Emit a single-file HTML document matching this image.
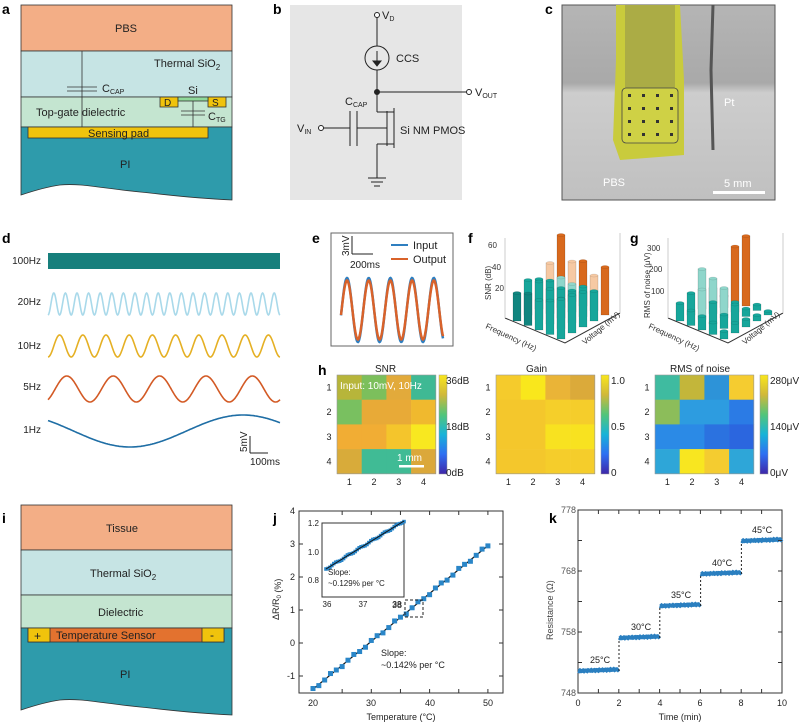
<!DOCTYPE html>
<html><head><meta charset="utf-8"><style>
html,body{margin:0;padding:0;background:#fff;}
svg{display:block;font-family:"Liberation Sans",sans-serif;}
</style></head><body>
<svg id="s" width="799" height="722" viewBox="0 0 799 722" xmlns="http://www.w3.org/2000/svg">
<g font-weight="bold" font-size="14" fill="#000">
<text x="2" y="14">a</text><text x="273" y="14">b</text><text x="545" y="14">c</text>
<text x="2" y="243">d</text><text x="312" y="243">e</text><text x="468" y="243">f</text><text x="630" y="243">g</text>
<text x="318" y="375">h</text><text x="2" y="523">i</text><text x="273" y="523">j</text><text x="549" y="523">k</text>
</g>
<!-- panel a -->
<g stroke="#333" stroke-width="0.8">
<rect x="21" y="5" width="211" height="46" fill="#f3ae86"/>
<rect x="21" y="51" width="211" height="46" fill="#c6e4e4"/>
<rect x="21" y="97" width="211" height="30" fill="#c4e5d0"/>
<path d="M21 127 H232 V200 C190 198 170 195 140 192 C100 188 80 183 60 185 C45 187 30 192 21 195 Z" fill="#2e9bab"/>
<rect x="28" y="127" width="180" height="11" fill="#f0c30c"/>
<rect x="160" y="97" width="18" height="10" fill="#f0c30c"/>
<rect x="208" y="97" width="18" height="10" fill="#f0c30c"/>
<rect x="178" y="97" width="30" height="4" fill="#8fd89a"/>
<line x1="82" y1="51" x2="82" y2="127"/>
<line x1="67" y1="87" x2="97" y2="87"/><line x1="67" y1="91" x2="97" y2="91"/>
<line x1="193" y1="101" x2="193" y2="127"/>
<line x1="181" y1="111" x2="205" y2="111"/><line x1="181" y1="115" x2="205" y2="115"/>
</g>
<g font-size="11" fill="#222">
<text x="115" y="32">PBS</text><text x="154" y="67">Thermal SiO<tspan font-size="8" dy="3">2</tspan></text>
<text x="102" y="92">C<tspan font-size="7" dy="2">CAP</tspan></text>
<text x="188" y="94">Si</text><text x="164" y="106" font-size="10">D</text><text x="212" y="106" font-size="10">S</text>
<text x="36" y="116">Top-gate dielectric</text><text x="208" y="120">C<tspan font-size="7" dy="2">TG</tspan></text>
<text x="88" y="137">Sensing pad</text><text x="120" y="168">PI</text>
</g>
<!-- panel b -->
<rect x="290" y="5" width="172" height="195" fill="#e6e6e6"/>
<g stroke="#222" stroke-width="1" fill="none">
<circle cx="377" cy="15" r="2.5" fill="#fff"/>
<line x1="377" y1="17.5" x2="377" y2="46"/>
<circle cx="377" cy="58" r="12"/>
<line x1="377" y1="51" x2="377" y2="64"/>
<path d="M373 61 L377 66 L381 61 Z" fill="#222"/>
<line x1="377" y1="70" x2="377" y2="112"/>
<circle cx="377" cy="92" r="2.5" fill="#222"/>
<line x1="377" y1="92" x2="466" y2="92"/>
<circle cx="469" cy="92" r="2.5" fill="#fff"/>
<circle cx="321" cy="128" r="2.5" fill="#fff"/>
<line x1="323.5" y1="128" x2="350" y2="128"/>
<line x1="350" y1="111" x2="350" y2="146"/><line x1="357" y1="111" x2="357" y2="146"/>
<line x1="357" y1="128" x2="387" y2="128"/>
<line x1="387" y1="111" x2="387" y2="146"/>
<line x1="394" y1="108" x2="394" y2="148"/>
<line x1="394" y1="112" x2="377" y2="112"/><line x1="394" y1="144" x2="377" y2="144"/>
<line x1="377" y1="144" x2="377" y2="178"/>
<line x1="368" y1="178" x2="386" y2="178"/><line x1="371" y1="182" x2="383" y2="182"/><line x1="374" y1="186" x2="380" y2="186"/>
</g>
<g font-size="11" fill="#222">
<text x="382" y="19">V<tspan font-size="7" dy="2">D</tspan></text>
<text x="396" y="62">CCS</text>
<text x="475" y="96">V<tspan font-size="7" dy="2">OUT</tspan></text>
<text x="297" y="132">V<tspan font-size="7" dy="2">IN</tspan></text>
<text x="345" y="105">C<tspan font-size="7" dy="2">CAP</tspan></text>
<text x="400" y="134">Si NM PMOS</text>
</g>
<!-- panel c -->
<defs>
<linearGradient id="cg" x1="0" y1="0" x2="0" y2="1"><stop offset="0" stop-color="#b5b5b5"/><stop offset="0.4" stop-color="#a9a9a9"/><stop offset="0.45" stop-color="#cdcdcd"/><stop offset="1" stop-color="#c0c0c0"/></linearGradient>
</defs>
<rect x="562" y="5" width="213" height="195" fill="url(#cg)" stroke="#555"/>
<path d="M616 5 L680 5 L684 80 L684 155 L620 160 L613 140 L616 60 Z" fill="#c9cb3c"/>
<rect x="625" y="5" width="50" height="85" fill="#9e9e48" opacity="0.7"/>
<rect x="622" y="88" width="56" height="55" rx="4" fill="#cfd145" stroke="#444" stroke-width="0.8"/>
<g fill="#333">
<rect x="628" y="94" width="3" height="3"/><rect x="642" y="94" width="3" height="3"/><rect x="656" y="94" width="3" height="3"/><rect x="670" y="94" width="3" height="3"/>
<rect x="628" y="107" width="3" height="3"/><rect x="642" y="107" width="3" height="3"/><rect x="656" y="107" width="3" height="3"/><rect x="670" y="107" width="3" height="3"/>
<rect x="628" y="120" width="3" height="3"/><rect x="642" y="120" width="3" height="3"/><rect x="656" y="120" width="3" height="3"/><rect x="670" y="120" width="3" height="3"/>
<rect x="628" y="133" width="3" height="3"/><rect x="642" y="133" width="3" height="3"/><rect x="656" y="133" width="3" height="3"/><rect x="670" y="133" width="3" height="3"/>
</g>
<path d="M713 5 L711 70 L713 150" stroke="#555" stroke-width="3" fill="none"/>
<g font-size="11" fill="#fff"><text x="603" y="186">PBS</text><text x="724" y="106">Pt</text><text x="724" y="187">5 mm</text></g>
<rect x="713" y="191" width="52" height="3" fill="#fff"/>
<!-- panel d -->
<g font-size="10" fill="#222" text-anchor="end">
<text x="41" y="264">100Hz</text><text x="41" y="305">20Hz</text><text x="41" y="349">10Hz</text><text x="41" y="390">5Hz</text><text x="41" y="433">1Hz</text>
</g>
<rect x="48" y="253" width="232" height="16" fill="#177f7c"/>
<g id="waves" fill="none" stroke-width="1.6"></g>
<g stroke="#222" stroke-width="1"><line x1="250" y1="436" x2="250" y2="453"/><line x1="250" y1="453" x2="268" y2="453"/></g>
<text x="247" y="452" font-size="10" fill="#222" transform="rotate(-90 247 452)">5mV</text>
<text x="250" y="465" font-size="10" fill="#222">100ms</text>
<!-- panel e -->
<rect x="331" y="233" width="122" height="113" fill="#fff" stroke="#666"/>
<g stroke="#222" stroke-width="1"><line x1="352" y1="236" x2="352" y2="254"/><line x1="352" y1="254" x2="373" y2="254"/></g>
<text x="349" y="256" font-size="10" fill="#222" transform="rotate(-90 349 256)">3mV</text>
<text x="350" y="268" font-size="10" fill="#222">200ms</text>
<line x1="391" y1="245" x2="408" y2="245" stroke="#2f7fc0" stroke-width="2"/>
<line x1="391" y1="259" x2="408" y2="259" stroke="#d9622a" stroke-width="2"/>
<text x="413" y="249" font-size="11" fill="#222">Input</text><text x="413" y="263" font-size="11" fill="#222">Output</text>
<g id="ewave" fill="none"></g>
<g id="bars3d"></g>
<g font-size="8" fill="#333">
<text x="488" y="248">60</text><text x="492" y="270">40</text><text x="495" y="291">20</text>
<text x="491" y="300" font-size="8" transform="rotate(-90 491 300)">SNR (dB)</text>
<text x="485" y="328" transform="rotate(25 485 328)">Frequency (Hz)</text>
<text x="585" y="345" transform="rotate(-40 585 345)">Voltage (mV)</text>
<text x="647" y="251">300</text><text x="649" y="272">200</text><text x="651" y="294">100</text>
<text x="650" y="318" transform="rotate(-90 650 318)">RMS of noise (μV)</text>
<text x="648" y="328" transform="rotate(25 648 328)">Frequency (Hz)</text>
<text x="745" y="345" transform="rotate(-40 745 345)">Voltage (mV)</text>
</g>
<!-- panel h -->
<g id="heat"></g>
<g font-size="10" fill="#222">
<text x="375" y="372">SNR</text><text x="526" y="372">Gain</text><text x="670" y="372">RMS of noise</text>
<text x="446" y="384">36dB</text><text x="446" y="430">18dB</text><text x="446" y="476">0dB</text>
<text x="611" y="384">1.0</text><text x="611" y="430">0.5</text><text x="611" y="476">0</text>
<text x="770" y="384">280μV</text><text x="770" y="430">140μV</text><text x="770" y="476">0μV</text>
</g>
<text x="340" y="389" font-size="10" fill="#fff">Input: 10mV, 10Hz</text>
<text x="397" y="461" font-size="10" fill="#fff">1 mm</text>
<rect x="399" y="465" width="25" height="2.5" fill="#fff"/>
<!-- panel i -->
<g stroke="#333" stroke-width="0.8">
<rect x="21" y="505" width="211" height="45" fill="#f3ae86"/>
<rect x="21" y="550" width="211" height="45" fill="#c6e4e4"/>
<rect x="21" y="595" width="211" height="33" fill="#c4e5d0"/>
<path d="M21 628 H232 V715 C190 713 170 710 140 707 C100 703 80 698 60 700 C45 702 30 707 21 710 Z" fill="#2e9bab"/>
<rect x="28" y="628" width="196" height="14" fill="#e3722f"/>
<rect x="28" y="628" width="22" height="14" fill="#f0c30c"/>
<rect x="202" y="628" width="22" height="14" fill="#f0c30c"/>
</g>
<g font-size="11" fill="#222">
<text x="106" y="532">Tissue</text><text x="90" y="577">Thermal SiO<tspan font-size="8" dy="3">2</tspan></text>
<text x="98" y="616">Dielectric</text><text x="56" y="639">Temperature Sensor</text>
<text x="34" y="640" font-size="12">+</text><text x="210" y="639" font-size="12">-</text>
<text x="120" y="678">PI</text>
</g>
<!-- panel j -->
<rect x="299" y="511" width="204" height="182" fill="#fff" stroke="#333"/>
<g id="jplot"></g>
<g font-size="9" fill="#222" text-anchor="end">
<text x="295" y="514">4</text><text x="295" y="547">3</text><text x="295" y="580">2</text><text x="295" y="613">1</text><text x="295" y="646">0</text><text x="295" y="679">-1</text>
</g>
<g font-size="9" fill="#222" text-anchor="middle">
<text x="313" y="706">20</text><text x="371" y="706">30</text><text x="430" y="706">40</text><text x="488" y="706">50</text>
<text x="401" y="720">Temperature (°C)</text>
</g>
<text x="279" y="620" font-size="9" fill="#222" transform="rotate(-90 279 620)">ΔR/R<tspan font-size="6" dy="2">0</tspan> (%)</text>
<text x="381" y="656" font-size="9" fill="#222">Slope:</text><text x="381" y="668" font-size="9" fill="#222">~0.142% per °C</text>
<rect x="405" y="600" width="18" height="17" fill="none" stroke="#222" stroke-dasharray="3,2"/>
<text x="392" y="608" font-size="9" fill="#222">38</text>
<rect x="322" y="523" width="82" height="74" fill="#fff" stroke="#333"/>
<g id="jinset"></g>
<g font-size="8" fill="#222" text-anchor="end"><text x="319" y="526">1.2</text><text x="319" y="555">1.0</text><text x="319" y="583">0.8</text></g>
<g font-size="8" fill="#222" text-anchor="middle"><text x="327" y="607">36</text><text x="363" y="607">37</text><text x="397" y="607">38</text></g>
<text x="328" y="575" font-size="8" fill="#222">Slope:</text><text x="328" y="586" font-size="8" fill="#222">~0.129% per °C</text>
<!-- panel k -->
<rect x="578" y="510" width="204" height="183" fill="#fff" stroke="#333"/>
<g id="kplot"></g>
<g font-size="9" fill="#555" text-anchor="end">
<text x="576" y="513">778</text><text x="576" y="574">768</text><text x="576" y="635">758</text><text x="576" y="696">748</text>
</g>
<g font-size="9" fill="#222" text-anchor="middle">
<text x="578" y="706">0</text><text x="619" y="706">2</text><text x="660" y="706">4</text><text x="700" y="706">6</text><text x="741" y="706">8</text><text x="782" y="706">10</text>
<text x="680" y="720">Time (min)</text>
</g>
<text x="553" y="640" font-size="9" fill="#444" transform="rotate(-90 553 640)">Resistance (Ω)</text>
<g font-size="9" fill="#222">
<text x="590" y="663">25°C</text><text x="631" y="630">30°C</text><text x="671" y="598">35°C</text><text x="712" y="566">40°C</text><text x="752" y="533">45°C</text>
</g>
<script>
const NS="http://www.w3.org/2000/svg";
function el(p,t,a){const e=document.createElementNS(NS,t);for(const k in a)e.setAttribute(k,a[k]);p.appendChild(e);return e;}
const W=document.getElementById('waves');
function wave(y,amp,cyc,col,ph){let d="";for(let i=0;i<=464;i++){const x=48+i*0.5;const t=i/464;d+=(i?"L":"M")+x.toFixed(1)+" "+(y-amp*Math.sin(2*Math.PI*cyc*t+ph)).toFixed(1);}el(W,'path',{d:d,stroke:col});}
wave(304,11,20,"#a9d9ea",-Math.PI/2);
wave(346,11,10,"#e5b024",-Math.PI/2);
wave(389,13,5,"#d35a25",-Math.PI/2+0.6);
// 1Hz: start 424, min at x130 (447), max at x243 (415)
(function(){let d="";for(let i=0;i<=232;i++){const x=48+i;const v=431-16*Math.cos(2*Math.PI*(x-243)/226);d+=(i?"L":"M")+x+" "+v.toFixed(1);}el(W,'path',{d:d,stroke:"#1f6ea5"});})();
const E=document.getElementById('ewave');
function ew(col,amp){let d="";for(let i=0;i<=204;i++){const x=341+i*0.5;d+=(i?"L":"M")+x.toFixed(1)+" "+(310-amp*Math.sin(2*Math.PI*(x-341)/21.7-0.17)).toFixed(1);}el(E,'path',{d:d,stroke:col,'stroke-width':2.5});}
ew("#2f7fc0",32);ew("#d9622a",29.5);
const B=document.getElementById('bars3d');
function bars(ox,oy,grid,hs){
 el(B,'path',{d:`M${ox} ${oy} l60 25 l55 -30`,stroke:"#333",fill:"none"});
 el(B,'path',{d:`M${ox} ${oy} v-80 M${ox+115} ${oy-5} v-80`,stroke:"#ccc",fill:"none"});
 for(let r=0;r<5;r++)for(let c=0;c<5;c++){
  const h=hs[r][c];if(!h)continue;const col=grid[r][c];
  const x=ox+8+r*11+c*11, y=oy+3+r*4.5-c*6;
  el(B,'rect',{x:x,y:y-h,width:8,height:h,fill:col,stroke:"rgba(0,0,0,0.25)","stroke-width":0.5});
  el(B,'ellipse',{cx:x+4,cy:y-h,rx:4,ry:1.5,fill:col,stroke:"rgba(0,0,0,0.2)","stroke-width":0.4});
 }}
const tl="#17a69b",dk="#11857f",pk="#f6c9a3",or="#d8691d",lt="#8fd6cb";
bars(505,318,[[dk,tl,tl,pk,or],[dk,tl,tl,lt,pk],[tl,tl,tl,lt,or],[tl,tl,tl,tl,pk],[tl,tl,tl,tl,or]],
 [[28,35,30,40,62],[32,38,33,30,40],[30,35,30,28,45],[34,30,32,30,35],[40,38,35,30,48]]);
bars(668,318,[[tl,tl,lt,tl,dk],[tl,lt,lt,tl,or],[tl,tl,lt,tl,or],[tl,tl,tl,tl,tl],[tl,tl,tl,tl,tl]],
 [[18,22,40,15,8],[15,30,35,12,55],[14,22,30,10,70],[12,14,18,8,6],[8,10,8,6,4]]);
const H=document.getElementById('heat');
function heat(x0,cols,cbx){const s=24.7;for(let r=0;r<4;r++)for(let c=0;c<4;c++)el(H,'rect',{x:x0+c*s,y:375+r*s,width:s+0.3,height:s+0.3,fill:cols[r][c]});
 el(H,'rect',{x:x0,y:375,width:4*s,height:4*s,fill:"none",stroke:"#999","stroke-width":0.6});
 const g=el(H,'linearGradient',{id:'pg'+x0,x1:0,y1:1,x2:0,y2:0});
 ["#3e26a8","#2e6ff2","#17b3d8","#52c57a","#d0b83a","#f9e61c"].forEach((c,i)=>el(g,'stop',{offset:i/5,'stop-color':c}));
 el(H,'rect',{x:cbx,y:375,width:8,height:99,fill:`url(#pg${x0})`,stroke:"#999","stroke-width":0.5});
 for(let i=0;i<4;i++){const t=el(H,'text',{x:x0-8,y:375+s*i+s/2+3,'font-size':9,fill:'#222','text-anchor':'middle'});t.textContent=i+1;
 const u=el(H,'text',{x:x0+s*i+s/2,y:485,'font-size':9,fill:'#222','text-anchor':'middle'});u.textContent=i+1;}}
heat(337,[["#b7b53a","#7cbf5c","#e2aa3b","#3fb994"],["#79c060","#e8aa37","#e8aa37","#f0b92e"],["#f1ad34","#f1ad34","#f4c52c","#f8e820"],["#d8ab3a","#40bb95","#40bb95","#dba83a"]],439);
heat(496,[["#f5cb2c","#f9e71c","#eab437","#dbaa3a"],["#f4c72c","#f4c72c","#f5cf2a","#f5cd2b"],["#f4c72c","#f4c72c","#f8e220","#f8e220"],["#f4c72c","#f4c72c","#f5cd2b","#f5cd2b"]],601);
heat(655,[["#3fbba0","#c3b63a","#2d93d8","#f5cc30"],["#8cbd5a","#2d9ce0","#2d9ce0","#2b7be5"],["#2b8ae6","#2b8ae6","#2b72e0","#2b66df"],["#2ea6d8","#f8e620","#f4cc30","#2ea6d8"]],760);
const J=document.getElementById('jplot');
function jx(t){return 313+(t-20)*5.83;} function jy(v){return 643-v*33;}
el(J,'line',{x1:jx(20),y1:jy(-1.4),x2:jx(50),y2:jy(2.95),stroke:"#111","stroke-width":1.2});
for(let t=20;t<=50;t++){const v=-1.4+(t-20)*0.145+(Math.sin(t*1.7)*0.04);el(J,'rect',{x:jx(t)-2.5,y:jy(v)-2.5,width:5,height:5,fill:"#2a86c8"});}
for(let t=25;t<=50;t+=5){el(J,'line',{x1:jx(t),y1:693,x2:jx(t),y2:689,stroke:"#333"});el(J,'line',{x1:jx(t),y1:511,x2:jx(t),y2:515,stroke:"#333"});}
for(let v=-1;v<=4;v++){el(J,'line',{x1:299,y1:jy(v),x2:303,y2:jy(v),stroke:"#333"});el(J,'line',{x1:503,y1:jy(v),x2:499,y2:jy(v),stroke:"#333"});}
const JI=document.getElementById('jinset');
for(let i=0;i<=40;i++){const x=326+i*1.95,y=569-i*1.2+Math.sin(i)*0.8;el(JI,'rect',{x:x-1.8,y:y-1.8,width:3.6,height:3.6,fill:"#2a86c8"});}
el(JI,'line',{x1:326,y1:569,x2:404,y2:521,stroke:"#111","stroke-width":1});
const K=document.getElementById('kplot');
const lv=[671,638,606,574,541];
for(let i=0;i<5;i++){const x0=578+i*40.8;let d="";for(let j=0;j<=40;j++){d+=(j?"L":"M")+(x0+j*1.02).toFixed(1)+" "+(lv[i]-j*0.04+Math.sin(j*2.3)*0.5).toFixed(1);}
 el(K,'path',{d:d,stroke:"#2a7fc0","stroke-width":4,fill:"none"});
 if(i<4)el(K,'line',{x1:x0+41,y1:lv[i],x2:x0+41,y2:lv[i+1],stroke:"#222","stroke-dasharray":"2,2"});}
for(let t=1;t<10;t++){el(K,'line',{x1:578+t*20.4,y1:693,x2:578+t*20.4,y2:689,stroke:"#333"});el(K,'line',{x1:578+t*20.4,y1:510,x2:578+t*20.4,y2:514,stroke:"#333"});}
for(let v=0;v<=6;v++){const y=693-v*30.5;el(K,'line',{x1:578,y1:y,x2:582,y2:y,stroke:"#333"});el(K,'line',{x1:782,y1:y,x2:778,y2:y,stroke:"#333"});}
</script>
</svg>
</body></html>
